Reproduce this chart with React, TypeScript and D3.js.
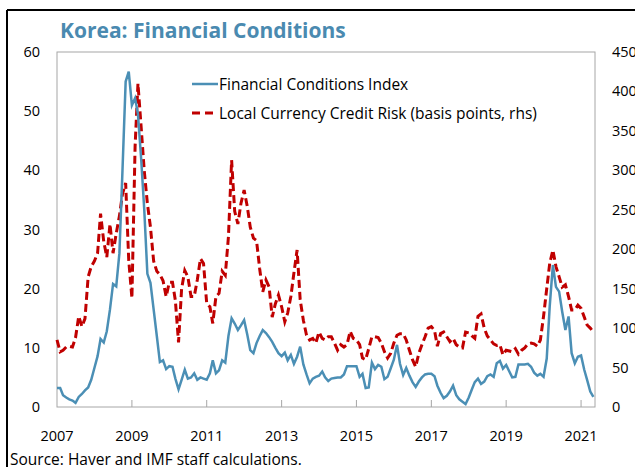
import React from "react";
import * as d3 from "d3";

const startMonth = new Date(2007, 0, 1);
const months: Date[] = d3.timeMonth.range(startMonth, new Date(2021, 5, 1));

const fciValues: number[] = [
  3.2, 3.2, 2.0, 1.6, 1.3, 1.1, 0.7, 1.7, 2.2, 2.8, 3.3, 4.6,
  6.6, 8.6, 11.5, 10.9, 12.8, 16.5, 20.8, 20.4, 26, 40, 55, 56.7,
  51, 52.2, 49.5, 42, 33.5, 22.5, 21, 16.5, 12, 7.6, 7.9, 6.4,
  6.9, 6.8, 4.8, 3.0, 4.6, 6.3, 4.8, 5.0, 5.7, 4.6, 5.0, 4.8,
  4.6, 5.7, 7.9, 5.7, 6.2, 7.9, 7.5, 12, 15, 14.1, 13, 13.8,
  14.7, 12.2, 9.6, 9.1, 10.8, 12, 13, 12.5, 11.8, 11, 10, 9.1,
  8.6, 9.2, 7.9, 8.8, 7.3, 8.5, 10.2, 7.2, 5.5, 4.0, 4.8, 5.1,
  5.3, 6.0, 5.0, 4.4, 4.8, 4.9, 5.0, 5.0, 5.5, 6.9, 6.9, 6.9,
  6.9, 5.1, 5.6, 3.2, 3.3, 7.5, 6.4, 7.1, 6.8, 4.7, 5.1, 6.5,
  8.0, 10.5, 7.3, 5.4, 6.6, 5.3, 4.2, 3.4, 4.3, 5.0, 5.5, 5.6,
  5.6, 5.2, 3.6, 2.4, 1.5, 1.9, 2.6, 3.6, 2.0, 1.3, 0.9, 0.5,
  1.6, 3.0, 4.2, 4.8, 3.9, 4.3, 5.2, 5.5, 5.1, 7.4, 7.8, 6.5,
  7.1, 6.0, 5.0, 5.1, 7.2, 7.2, 7.2, 7.3, 6.8, 5.8, 5.3, 5.6,
  5.1, 8.2, 17, 24, 20.3, 19.5, 16.1, 13, 15.3, 9.1, 7.4, 8.5,
  8.7, 6.3, 4.6, 2.6, 1.7,
];

const creditRiskValues: number[] = [
  85, 70, 72, 76, 77, 76, 88, 115, 102, 112, 165, 178,
  185, 195, 245, 210, 190, 232, 195, 220, 242, 270, 284, 186,
  138, 330, 410, 355, 300, 258, 228, 185, 172, 168, 160, 140,
  158, 158, 135, 82, 150, 173, 165, 140, 140, 161, 188, 182,
  131, 127, 106, 140, 144, 172, 167, 216, 313, 248, 232, 258,
  275, 254, 228, 214, 211, 175, 146, 161, 152, 114, 131, 142,
  127, 108, 119, 140, 170, 199, 136, 110, 91, 85, 87, 81,
  95, 87, 85, 89, 89, 81, 72, 79, 76, 79, 96, 87,
  85, 79, 62, 60, 74, 89, 89, 88, 81, 70, 62, 68,
  81, 91, 93, 93, 85, 72, 60, 51, 68, 79, 89, 100,
  102, 97, 77, 93, 95, 89, 83, 87, 79, 76, 75, 95,
  94, 90, 87, 115, 118, 100, 90, 85, 80, 78, 79, 66,
  72, 71, 70, 74, 67, 72, 75, 80, 81, 80, 77, 85,
  115, 150, 182, 199, 178, 165, 152, 155, 140, 123, 123, 129,
  125, 114, 104, 100, 95,
];

const xTickYears: number[] = [2007, 2009, 2011, 2013, 2015, 2017, 2019, 2021];
const leftTicks: number[] = [0, 10, 20, 30, 40, 50, 60];
const rightTicks: number[] = [0, 50, 100, 150, 200, 250, 300, 350, 400, 450];

const titleText = "Korea: Financial Conditions";
const seriesNames = ["Financial Conditions Index", "Local Currency Credit Risk (basis points, rhs)"];
const sourceText = "Source: Haver and IMF staff calculations.";

const W = 635;
const H = 467;
const plot = { left: 57, right: 595, top: 52, bottom: 407 };
const FONT = "'Open Sans', 'Noto Sans', sans-serif";
const BLUE = "#4b8fb5";
const RED = "#c00000";

export default function App() {
  const x = d3
    .scaleTime()
    .domain([new Date(2007, 0, 1), new Date(2021, 4, 17)])
    .range([plot.left, plot.right]);
  const yL = d3.scaleLinear().domain([0, 60]).range([plot.bottom, plot.top]);
  const yR = d3.scaleLinear().domain([0, 450]).range([plot.bottom, plot.top]);

  const fciLine = d3
    .line<number>()
    .x((_, i) => x(months[i]))
    .y((d) => yL(d))
    .curve(d3.curveLinear);
  const crLine = d3
    .line<number>()
    .x((_, i) => x(months[i]))
    .y((d) => yR(d))
    .curve(d3.curveLinear);

  return (
    <svg
      width={W}
      height={H}
      style={{ position: "absolute", left: 0, top: 0, background: "#fff" }}
      fontFamily={FONT}
    >
      <rect x={0} y={0} width={W} height={H} fill="#fff" />
      {/* outer frame */}
      <line x1={7} y1={10} x2={W} y2={10} stroke="#000" strokeWidth={2} />
      <line x1={7} y1={10} x2={7} y2={H} stroke="#000" strokeWidth={2} />

      <text x={60} y={38} fontSize={21} fontWeight={700} fill="#4a8ab0" fontFamily={FONT}>
        {titleText}
      </text>

      {/* plot frame */}
      <rect
        x={plot.left}
        y={plot.top}
        width={plot.right - plot.left}
        height={plot.bottom - plot.top}
        fill="none"
        stroke="#a6a6a6"
        strokeWidth={1}
      />

      {/* x ticks */}
      {xTickYears.map((yr) => {
        const xx = x(new Date(yr, 0, 1));
        return (
          <g key={yr}>
            {yr !== 2007 && (
              <line x1={xx} x2={xx} y1={plot.bottom} y2={plot.bottom - 7} stroke="#a6a6a6" strokeWidth={1} />
            )}
            <text x={xx} y={441} fontSize={14.5} textAnchor="middle" fill="#000">
              {yr}
            </text>
          </g>
        );
      })}

      {leftTicks.map((t) => (
        <text key={"l" + t} x={40} y={yL(t) + 5} fontSize={14.5} textAnchor="end" fill="#000">
          {t}
        </text>
      ))}
      {rightTicks.map((t) => (
        <text key={"r" + t} x={612} y={yR(t) + 5} fontSize={14.5} textAnchor="start" fill="#000">
          {t}
        </text>
      ))}

      <path d={crLine(creditRiskValues) || ""} fill="none" stroke={RED} strokeWidth={3} strokeDasharray="8,4" />
      <path d={fciLine(fciValues) || ""} fill="none" stroke={BLUE} strokeWidth={2.5} />

      {/* legend */}
      <line x1={192} x2={218} y1={84} y2={84} stroke={BLUE} strokeWidth={2.5} />
      <text x={219} y={89.5} fontSize={15.5} fill="#000">
        {seriesNames[0]}
      </text>
      <line x1={192} x2={214} y1={113} y2={113} stroke={RED} strokeWidth={3} strokeDasharray="8,5" />
      <text x={219} y={118.5} fontSize={15.5} fill="#000">
        {seriesNames[1]}
      </text>

      <text x={10} y={465} fontSize={15.5} fill="#000">
        {sourceText}
      </text>
    </svg>
  );
}
